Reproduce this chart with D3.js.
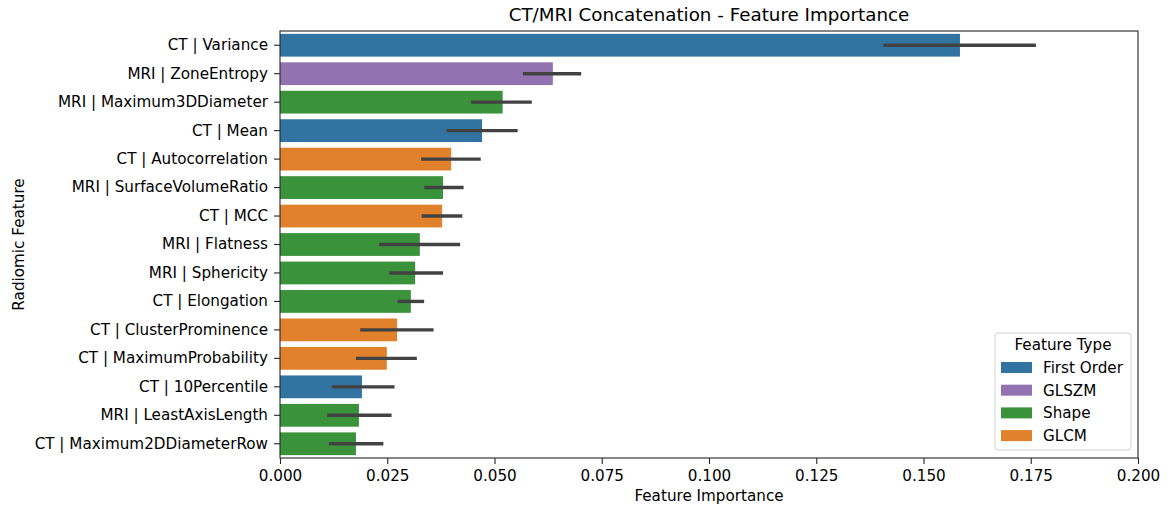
<!DOCTYPE html>
<html>
<head>
<meta charset="utf-8">
<script src="https://cdn.jsdelivr.net/npm/d3@7"></script>
<style>
  html, body { margin: 0; padding: 0; background: #fff; }
  svg { display: block; font-family: "DejaVu Sans", sans-serif; }
</style>
</head>
<body>
<svg id="chart" width="1171" height="508"></svg>
<script>
// Radiomic features, ordered by mean importance
const features = [
  "CT | Variance", "MRI | ZoneEntropy", "MRI | Maximum3DDiameter", "CT | Mean",
  "CT | Autocorrelation", "MRI | SurfaceVolumeRatio", "CT | MCC", "MRI | Flatness",
  "MRI | Sphericity", "CT | Elongation", "CT | ClusterProminence",
  "CT | MaximumProbability", "CT | 10Percentile", "MRI | LeastAxisLength",
  "CT | Maximum2DDiameterRow"
];
const featureTypes = [
  "First Order", "GLSZM", "Shape", "First Order", "GLCM", "Shape", "GLCM", "Shape",
  "Shape", "Shape", "GLCM", "GLCM", "First Order", "Shape", "Shape"
];
const importance = [
  0.1585, 0.0636, 0.0519, 0.0471, 0.0399, 0.0380, 0.0378, 0.0326,
  0.0315, 0.0305, 0.0273, 0.0249, 0.0191, 0.0184, 0.0177
];
const ciLow = [
  0.1406, 0.0566, 0.0445, 0.0388, 0.0329, 0.0336, 0.0330, 0.0231,
  0.0255, 0.0274, 0.0187, 0.0177, 0.0121, 0.0110, 0.0114
];
const ciHigh = [
  0.1762, 0.0702, 0.0587, 0.0554, 0.0468, 0.0428, 0.0425, 0.0420,
  0.0380, 0.0336, 0.0358, 0.0319, 0.0267, 0.0260, 0.0241
];
const typeNames = ["First Order", "GLSZM", "Shape", "GLCM"];
const typeColors = ["#3274a1", "#9372b2", "#3a923a", "#e1812c"];
const xTicks = [0, 0.025, 0.05, 0.075, 0.1, 0.125, 0.15, 0.175, 0.2];

const rows = features.map((f, i) => ({
  name: f, type: featureTypes[i], v: importance[i], lo: ciLow[i], hi: ciHigh[i]
}));

const FS = "15.2px";
const svg = d3.select("#chart");
const m = { left: 280, right: 1138, top: 31, bottom: 458 };

const x = d3.scaleLinear().domain([0, 0.2]).range([m.left, m.right]);
const y = d3.scaleBand().domain(features).range([m.top, m.bottom]).paddingInner(0.2).paddingOuter(0.1);
const color = d3.scaleOrdinal().domain(typeNames).range(typeColors);

// Bars
svg.append("g").selectAll("rect").data(rows).join("rect")
  .attr("x", x(0))
  .attr("y", d => y(d.name))
  .attr("width", d => x(d.v) - x(0))
  .attr("height", y.bandwidth())
  .attr("fill", d => color(d.type));

// Confidence intervals
svg.append("g").selectAll("line").data(rows).join("line")
  .attr("x1", d => x(d.lo))
  .attr("x2", d => x(d.hi))
  .attr("y1", d => y(d.name) + y.bandwidth() / 2)
  .attr("y2", d => y(d.name) + y.bandwidth() / 2)
  .attr("stroke", "#424242")
  .attr("stroke-width", 3.4);

// Frame
svg.append("rect")
  .attr("x", m.left).attr("y", m.top)
  .attr("width", m.right - m.left).attr("height", m.bottom - m.top)
  .attr("fill", "none").attr("stroke", "#262626").attr("stroke-width", 1.1);

// X axis
const xAxis = svg.append("g")
  .attr("transform", `translate(0,${m.bottom})`)
  .call(d3.axisBottom(x).tickValues(xTicks).tickFormat(d3.format(".3f")).tickSize(6).tickPadding(6));
xAxis.select(".domain").remove();
xAxis.selectAll("line").attr("stroke", "#262626").attr("stroke-width", 1.1);
xAxis.selectAll("text").attr("font-size", FS).attr("fill", "#000")
  .attr("font-family", "DejaVu Sans");

// Y axis
const yAxis = svg.append("g")
  .attr("transform", `translate(${m.left},0)`)
  .call(d3.axisLeft(y).tickSize(6).tickPadding(6));
yAxis.select(".domain").remove();
yAxis.selectAll("line").attr("stroke", "#262626").attr("stroke-width", 1.1);
yAxis.selectAll("text").attr("font-size", FS).attr("fill", "#000")
  .attr("font-family", "DejaVu Sans");

// Titles
svg.append("text")
  .attr("x", (m.left + m.right) / 2).attr("y", 21)
  .attr("text-anchor", "middle").attr("font-size", "18.3px")
  .text("CT/MRI Concatenation - Feature Importance");
svg.append("text")
  .attr("x", (m.left + m.right) / 2).attr("y", 501)
  .attr("text-anchor", "middle").attr("font-size", FS)
  .text("Feature Importance");
svg.append("text")
  .attr("transform", `translate(24,${(m.top + m.bottom) / 2}) rotate(-90)`)
  .attr("text-anchor", "middle").attr("font-size", FS)
  .text("Radiomic Feature");

// Legend
const lg = svg.append("g").attr("transform", "translate(995,333)");
lg.append("rect")
  .attr("width", 136).attr("height", 117).attr("rx", 3)
  .attr("fill", "#fff").attr("fill-opacity", 0.8)
  .attr("stroke", "#d0d0d0").attr("stroke-width", 1);
lg.append("text")
  .attr("x", 68).attr("y", 17).attr("text-anchor", "middle")
  .attr("font-size", FS).text("Feature Type");
typeNames.forEach((t, i) => {
  const yy = 34.5 + i * 22.7;
  lg.append("rect").attr("x", 6).attr("y", yy - 5.5).attr("width", 31).attr("height", 11)
    .attr("fill", typeColors[i]);
  lg.append("text").attr("x", 48).attr("y", yy + 5.5)
    .attr("font-size", FS).text(t);
});
</script>
</body>
</html>
